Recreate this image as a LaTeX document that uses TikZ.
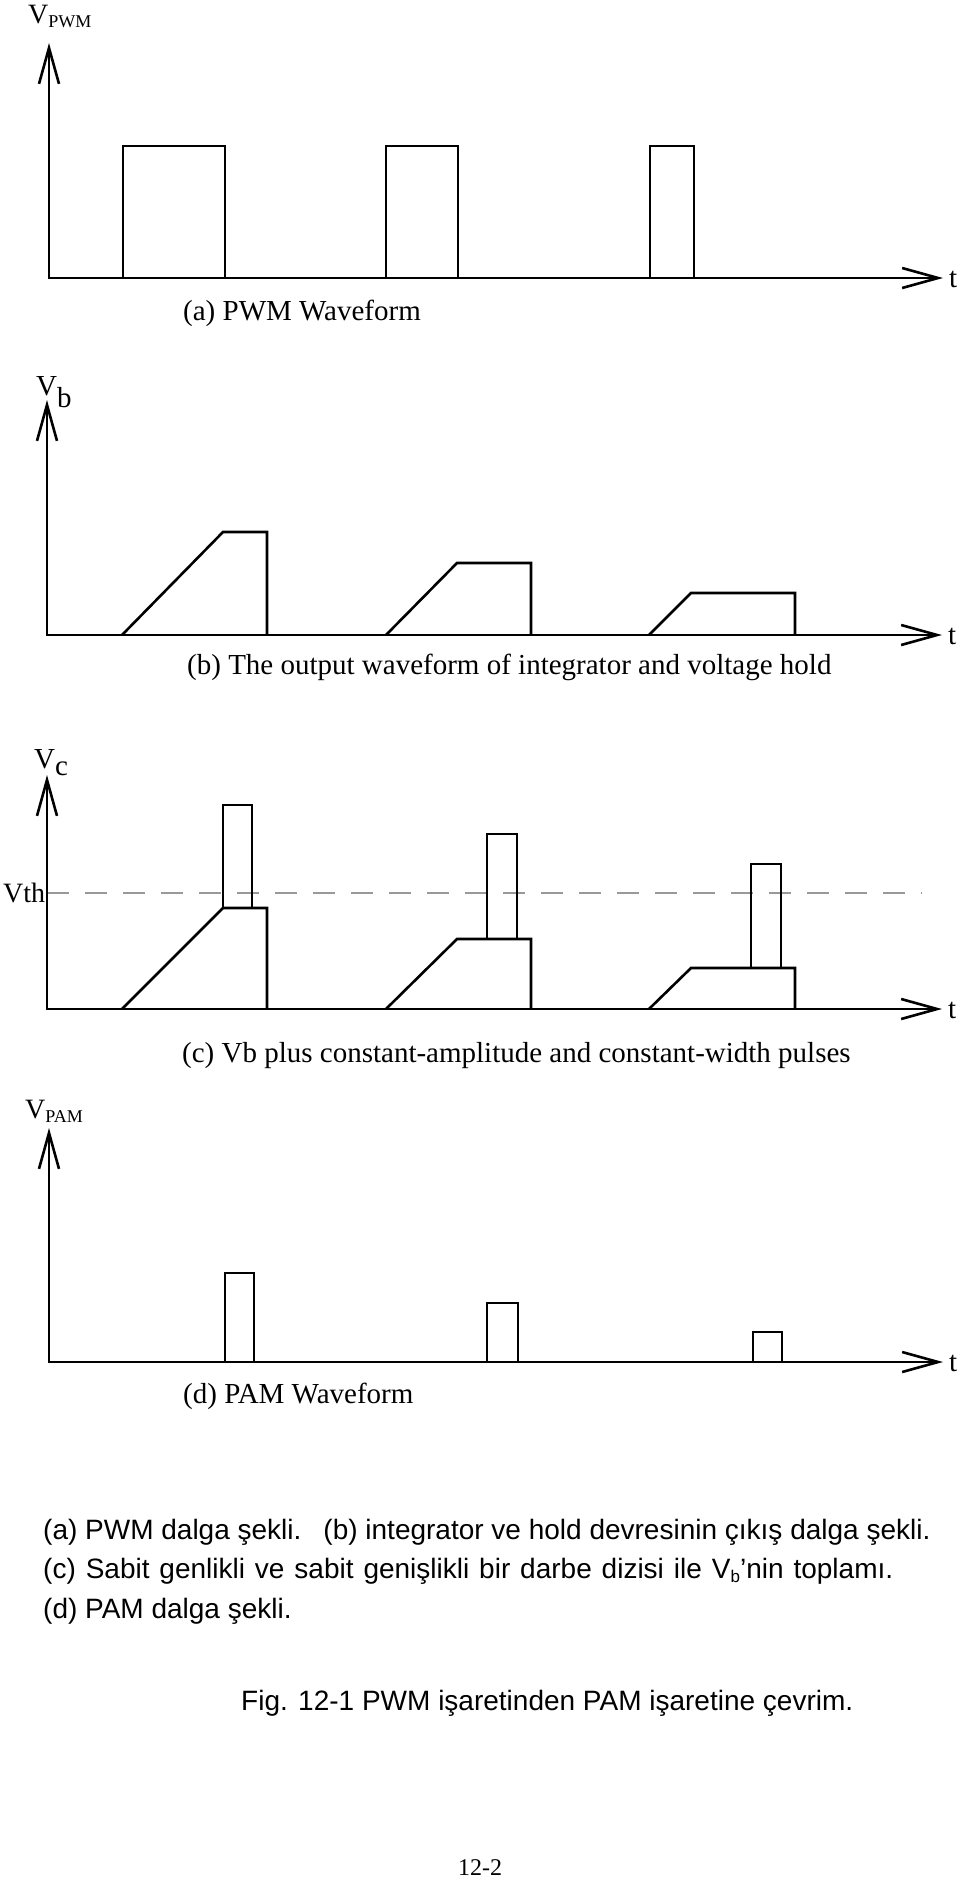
\documentclass[tikz,border=0pt]{standalone}
\usepackage{fontspec}
\setmainfont{Liberation Serif}
\newfontfamily\sansf{Liberation Sans}
\usetikzlibrary{arrows.meta}
\newcommand\mysub[2]{\raisebox{-#1pt}{\fontsize{18}{18}\selectfont #2}}
\begin{document}
\begin{tikzpicture}[x=1pt,y=-1pt,
  wave/.style={line width=2.6pt, line join=miter},
  axis/.style={line width=2.6pt, line join=miter,
    {Straight Barb[length=36pt,width=20pt]}-{Straight Barb[length=36pt,width=20pt]}},
  thr/.style={line width=1.1pt, black!40, dash pattern=on 22pt off 16pt},
  lbl/.style={inner sep=0pt, anchor=base west, font=\fontsize{29}{34}\selectfont},
  axlbl/.style={inner sep=0pt, anchor=base west, font=\fontsize{28}{34}\selectfont},
  sans/.style={inner sep=0pt, anchor=base west, font=\sansf\fontsize{28}{34}\selectfont}
]
\useasboundingbox[fill=white] (0,0) rectangle (960,1890);

% ---------- (a) PWM ----------
\coordinate (ya) at (49,43);
\coordinate (oa) at (49,278);
\coordinate (xa) at (943,278);
\draw[axis] (ya) -- (oa) -- (xa);
\draw[wave] (123,278) -- (123,146) -- (225,146) -- (225,278);
\draw[wave] (386,278) -- (386,146) -- (458,146) -- (458,278);
\draw[wave] (650,278) -- (650,146) -- (694,146) -- (694,278);
\node[axlbl] (vpwm) at (28,23) {V\mysub{4}{PWM}};
\node[lbl] (ta) at (949,287) {t};
\node[lbl] (capa) at (183,320) {(a) PWM Waveform};

% ---------- (b) integrator ----------
\coordinate (yb) at (47,400);
\coordinate (ob) at (47,635);
\coordinate (xb) at (942,635);
\draw[axis] (yb) -- (ob) -- (xb);
\draw[wave] (122,635) -- (223,532) -- (267,532) -- (267,635);
\draw[wave] (386,635) -- (457,563) -- (531,563) -- (531,635);
\draw[wave] (649,635) -- (691,593) -- (795,593) -- (795,635);
\node[lbl] (vb) at (36,395) {V\raisebox{-12pt}{b}};
\node[lbl] (tb) at (948,644) {t};
\node[lbl] (capb) at (187,674) {(b) The output waveform of integrator and voltage hold};

% ---------- (c) Vb plus pulses ----------
\coordinate (yc) at (47,775);
\coordinate (oc) at (47,1009);
\coordinate (xc) at (942,1009);
\draw[thr] (47,893) -- (922,893);
\draw[axis] (yc) -- (oc) -- (xc);
\draw[wave] (122,1009) -- (223,908) -- (267,908) -- (267,1009);
\draw[wave] (223,908) -- (223,805) -- (252,805) -- (252,908);
\draw[wave] (386,1009) -- (457,939) -- (531,939) -- (531,1009);
\draw[wave] (487,939) -- (487,834) -- (517,834) -- (517,939);
\draw[wave] (649,1009) -- (691,968) -- (795,968) -- (795,1009);
\draw[wave] (751,968) -- (751,864) -- (781,864) -- (781,968);
\node[lbl] (vc) at (34,768) {V\raisebox{-7pt}{c}};
\node[axlbl] (vth) at (3,902) {Vth};
\node[lbl] (tc) at (948,1018) {t};
\node[lbl] (capc) at (182,1062) {(c) Vb plus constant-amplitude and constant-width pulses};

% ---------- (d) PAM ----------
\coordinate (yd) at (49,1128);
\coordinate (od) at (49,1362);
\coordinate (xd) at (943,1362);
\draw[axis] (yd) -- (od) -- (xd);
\draw[wave] (225,1362) -- (225,1273) -- (254,1273) -- (254,1362);
\draw[wave] (487,1362) -- (487,1303) -- (518,1303) -- (518,1362);
\draw[wave] (753,1362) -- (753,1332) -- (782,1332) -- (782,1362);
\node[axlbl] (vpam) at (25,1118) {V\mysub{4}{PAM}};
\node[lbl] (td) at (949,1371) {t};
\node[lbl] (capd) at (183,1403) {(d) PAM Waveform};

% ---------- Turkish captions ----------
\node[sans] (l1) at (43,1539) {(a) PWM dalga şekli.\hspace{22pt}(b) integrator ve hold devresinin çıkış dalga şekli.};
\node[sans] (l2) at (43,1578) {\makebox[850pt][s]{(c) Sabit genlikli ve sabit genişlikli bir darbe dizisi ile V\raisebox{-4pt}{\fontsize{17}{17}\selectfont b}’nin toplamı.}};
\node[sans] (l3) at (43,1618) {(d) PAM dalga şekli.};
\node[sans] (fig) at (241,1710) {Fig. 12-1 PWM işaretinden PAM işaretine çevrim.};
\node[inner sep=0pt, anchor=base, font=\fontsize{24}{28}\selectfont] (pg) at (480,1875) {12-2};
\end{tikzpicture}
\end{document}
